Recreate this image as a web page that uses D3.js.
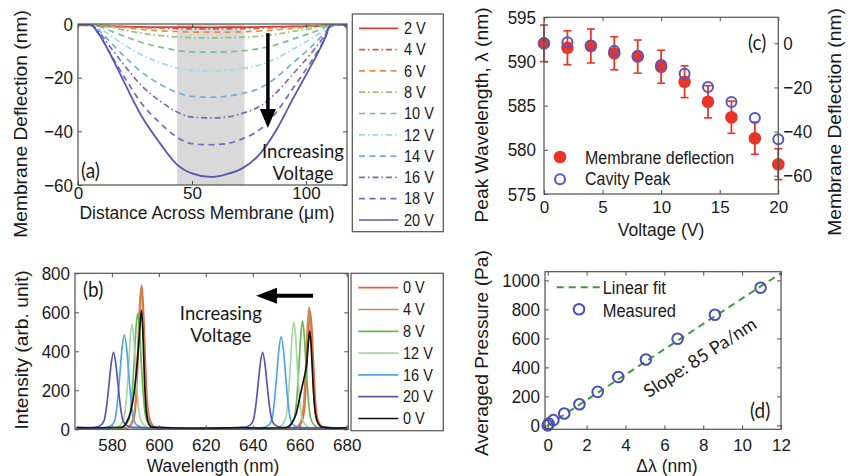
<!DOCTYPE html>
<html>
<head>
<meta charset="utf-8">
<script src="https://cdn.jsdelivr.net/npm/d3@7"></script>
<style>
  body { margin: 0; background: #fff; }
  svg { display: block; background: #fff; }
  /* source figure is stretched ~10% vertically */
  .sy { transform-box: fill-box; transform-origin: center; transform: scaleY(1.1); }
  .sx { transform-box: fill-box; transform-origin: center; transform: scaleX(1.1); }
</style>
</head>
<body>
<svg id="fig" width="849" height="476"></svg>
<script>
// ─── Data: (a) membrane deflection profiles ──────────────────────────────────
const distX = [0, 5, 9, 14, 21, 28, 36, 43, 50, 58, 65, 72, 80, 87, 94, 102, 108, 111, 115, 118];
const profileLabels = ['2 V', '4 V', '6 V', '8 V', '10 V', '12 V', '14 V', '16 V', '18 V', '20 V'];
const defl2V  = [-0.5, -0.5, -0.7, -0.9, -1, -1.1, -1.2, -1.2, -1.2, -1.3, -1.2, -1.2, -1.1, -1, -0.9, -0.8, -0.6, -0.4, -0.3, -0.3];
const defl4V  = [-0.3, -0.4, -0.5, -0.7, -1, -1.3, -1.5, -1.7, -1.8, -1.8, -1.8, -1.7, -1.6, -1.3, -1, -0.7, -0.4, -0.2, 0, 0];
const defl6V  = [0, -0.2, -0.4, -0.8, -1.4, -2, -2.5, -2.8, -3, -3, -3, -2.9, -2.6, -2.2, -1.6, -1, -0.4, -0.1, 0, 0];
const defl8V  = [0, 0, -0.4, -1.2, -2.4, -3.4, -4.3, -4.8, -5.1, -5.2, -5.1, -4.9, -4.5, -3.8, -2.8, -1.7, -0.7, -0.1, 0, 0];
const defl10V = [0, 0, -0.8, -2.5, -4.8, -6.9, -8.6, -9.8, -10.4, -10.5, -10.4, -10, -9.1, -7.7, -5.7, -3.4, -1.4, -0.2, 0, 0];
const defl12V = [0, 0, -1.4, -4.2, -8.1, -11.6, -14.4, -16.3, -17.3, -17.5, -17.3, -16.6, -15.2, -12.8, -9.5, -5.6, -2.3, -0.4, 0, -0.2];
const defl14V = [0, 0, -2.2, -6.6, -12.6, -18, -22.4, -25.4, -27, -27.3, -27, -25.9, -23.8, -19.9, -14.7, -8.7, -3.5, -0.5, 0, -0.3];
const defl16V = [0, 0, -2.8, -8.4, -16.1, -23.1, -28.7, -32.6, -34.7, -35, -34.7, -33.3, -30.5, -25.6, -18.9, -11.2, -4.6, -0.7, 0, -0.3];
const defl18V = [0, 0, -3.6, -10.8, -20.7, -29.7, -36.9, -41.9, -44.6, -45, -44.6, -42.8, -39.2, -32.9, -24.3, -14.4, -5.9, -0.9, 0, -0.5];
const defl20V = [0, 0, -3.5, -11, -23, -34.5, -44.5, -52, -55.7, -57, -56, -53.8, -48.2, -39.5, -28.3, -15.9, -6, 0, 0.5, -1.5];
const profileValues = [defl2V, defl4V, defl6V, defl8V, defl10V, defl12V, defl14V, defl16V, defl18V, defl20V];
const bandRange = [43.5, 73];

// ─── Data: (b) transmission spectra, [wavelength nm, intensity] ──────────────
const spectrumLabels = ['0 V', '4 V', '8 V', '12 V', '16 V', '20 V', '0 V'];
const spec0V = [[565,6],[580,6],[586.7,8],[588.5,30],[589.7,74],[590.6,200],[591.3,407],[592,629],[592.7,740],[593.4,629],[594.1,407],[594.8,200],[595.7,74],[596.9,30],[598.7,8],[620,5],[650,6],[658.5,8],[660.3,24],[661.5,61],[662.4,163],[663.1,333],[663.8,514],[664.5,605],[665.2,514],[665.9,333],[666.6,163],[667.5,61],[668.7,24],[670.5,8],[680,6]];
const spec4V = [[565,6],[580,6],[586.4,8],[588.2,29],[589.4,73],[590.3,196],[591,399],[591.7,616],[592.4,725],[593.1,616],[593.8,399],[594.5,196],[595.4,73],[596.6,29],[598.4,8],[620,5],[650,6],[658,8],[659.8,25],[661,63],[661.9,169],[662.6,344],[663.3,531],[664,625],[664.7,531],[665.4,344],[666.1,169],[667,63],[668.2,25],[670,8],[680,6]];
const spec8V = [[565,6],[578,6],[584,8],[586,24],[587.5,60],[588.5,161],[589.4,327],[590.2,506],[591,595],[591.8,506],[592.6,327],[593.5,161],[594.5,60],[596,24],[598,8],[620,5],[645,6],[654.2,8],[656.2,22],[657.7,56],[658.7,150],[659.6,305],[660.4,472],[661.2,555],[662,472],[662.8,305],[663.7,150],[664.7,56],[666.2,22],[668.2,8],[680,6]];
const spec12V = [[565,6],[575,6],[581.6,8],[583.6,22],[585.1,54],[586.1,146],[587,297],[587.8,459],[588.6,540],[589.4,459],[590.2,297],[591.1,146],[592.1,54],[593.6,22],[595.6,8],[620,5],[642,6],[650.5,8],[652.5,22],[654,55],[655,149],[655.9,303],[656.7,468],[657.5,550],[658.3,468],[659.1,303],[660,149],[661,55],[662.5,22],[664.5,8],[680,6]];
const spec16V = [[565,6],[572,6],[577.3,9],[579.8,20],[581.3,49],[582.3,131],[583.3,267],[584.3,412],[585.3,485],[586.3,412],[587.3,267],[588.3,131],[589.3,49],[590.8,20],[593.3,9],[615,5],[636,6],[644.1,9],[646.6,20],[648.1,48],[649.1,128],[650.1,261],[651.1,404],[652.1,475],[653.1,404],[654.1,261],[655.1,128],[656.1,48],[657.6,20],[660.1,9],[680,6]];
const spec20V = [[565,6],[572.7,10],[575.2,20],[576.7,45],[577.7,112],[578.7,220],[579.7,336],[580.7,395],[581.7,336],[582.7,220],[583.7,112],[584.7,45],[586.2,20],[588.7,10],[610,5],[628,6],[636.2,10],[638.7,20],[640.2,45],[641.2,112],[642.2,220],[643.2,336],[644.2,395],[645.2,336],[646.2,220],[647.2,112],[648.2,45],[649.7,20],[652.2,10],[680,6]];
const spec0Vb = [[565,10],[572,8],[580,9],[584,10],[586,30],[588,90],[589.5,190],[590.7,330],[591.7,480],[592.6,610],[593.3,470],[593.9,250],[594.6,100],[595.5,35],[597,12],[605,8],[620,5],[635,9],[645,6],[654,8],[656.5,30],[658.5,80],[660.4,185],[661.8,260],[662.8,320],[663.6,430],[664.3,505],[665,400],[665.7,230],[666.4,110],[667.5,40],[669.5,12],[675,6],[680,9]];
const spectra = [spec0V, spec4V, spec8V, spec12V, spec16V, spec20V, spec0Vb];

// ─── Data: (c) peak wavelength vs voltage ────────────────────────────────────
const voltages = [0, 2, 4, 6, 8, 10, 12, 14, 16, 18, 20];
const memDeflection = [0, -2, -1.2, -4.5, -6, -10.6, -17.4, -26.5, -33.5, -43, -54.8];
const memDeflErr = [8.3, 7.7, 7.7, 7.5, 7.5, 7.5, 7.2, 7.3, 7.3, 7.3, 7.0];
const cavityPeak = [592.06, 592.17, 591.8, 591.2, 590.65, 589.6, 588.6, 587.1, 585.4, 583.6, 581.2];

// ─── Data: (d) pressure vs wavelength shift ──────────────────────────────────
const dLambda = [0, 0.05, 0.29, 0.85, 1.63, 2.57, 3.63, 5.05, 6.68, 8.6, 10.95];
const pressure = [0, 12, 36, 82, 146, 231, 334, 454, 598, 763, 949];
const fitX = [0, 12];
const fitP = [0, 1050];

// ─── Tick values ─────────────────────────────────────────────────────────────
const ticksAX = [0, 50, 100], ticksAY = [0, -20, -40, -60];
const ticksBX = [580, 600, 620, 640, 660, 680], ticksBY = [0, 200, 400, 600, 800];
const ticksCX = [0, 5, 10, 15, 20], ticksCY = [575, 580, 585, 590, 595], ticksCY2 = [0, -20, -40, -60];
const ticksDX = [0, 2, 4, 6, 8, 10, 12], ticksDY = [0, 200, 400, 600, 800, 1000];

// ─── Styles ──────────────────────────────────────────────────────────────────
const SANS = '"Liberation Sans", Arial, Helvetica, sans-serif';
const NOTE = 'Lato, "Open Sans", sans-serif';
const AXIS = '#505050';
const TICK = 4;
const DASH = '6,4.5', DASHDOT = '6,3,1.5,3';
const profileStyles = [
  { color: '#c9412f', dash: null },
  { color: '#e4553f', dash: DASHDOT },
  { color: '#e98a45', dash: DASH },
  { color: '#93c765', dash: DASHDOT },
  { color: '#74c28a', dash: DASH },
  { color: '#9fd9ea', dash: DASHDOT },
  { color: '#72aedd', dash: DASH },
  { color: '#7d68ad', dash: DASHDOT },
  { color: '#7468c4', dash: DASH },
  { color: '#5656b5', dash: null },
];
const spectrumColors = ['#f25a3a', '#c98a50', '#66b94e', '#a6d6a2', '#4ea6e6', '#5e54ad', '#111111'];

const svg = d3.select('#fig');
const fmt = d3.format('d');

// ─── Helpers ─────────────────────────────────────────────────────────────────

function makePanel(id, box, xDom, yDom) {
  svg.append('clipPath').attr('id', id)
    .append('rect')
    .attr('x', box.l).attr('y', box.t)
    .attr('width', box.r - box.l).attr('height', box.b - box.t);
  return {
    id, box,
    x: d3.scaleLinear().domain(xDom).range([box.l, box.r]),
    y: d3.scaleLinear().domain(yDom).range([box.b, box.t]),
  };
}

// stretch only the y-axis labels; x labels sit tight against the titles
function styleAxis(sel, stretch = true) {
  sel.attr('font-size', null).attr('font-family', null);
  sel.select('.domain').remove();
  sel.selectAll('line').attr('stroke', AXIS).attr('stroke-width', 1);
  sel.selectAll('text')
    .attr('class', stretch ? 'sy' : null)
    .attr('fill', '#1a1a1a')
    .style('font-family', SANS)
    .style('font-size', '17px');
}

// Matlab-style boxed axes: inward ticks on all four sides
function renderFrame(p, xTicks, yTicks, opt) {
  const { x, y, box } = p;
  svg.append('g').attr('transform', `translate(0,${box.b})`)
    .call(d3.axisBottom(x).tickValues(xTicks).tickSize(-TICK).tickPadding(opt.padX).tickFormat(fmt))
    .call(styleAxis, false);
  svg.append('g').attr('transform', `translate(0,${box.t})`)
    .call(d3.axisTop(x).tickValues(xTicks).tickSize(-TICK).tickFormat(''))
    .call(styleAxis);
  svg.append('g').attr('transform', `translate(${box.l},0)`)
    .call(d3.axisLeft(y).tickValues(yTicks).tickSize(-TICK).tickPadding(opt.padY).tickFormat(fmt))
    .call(styleAxis);
  if (opt.y2) {
    svg.append('g').attr('transform', `translate(${box.r},0)`)
      .call(d3.axisRight(opt.y2).tickValues(opt.y2Ticks).tickSize(-TICK).tickPadding(5).tickFormat(fmt))
      .call(styleAxis);
  } else {
    svg.append('g').attr('transform', `translate(${box.r},0)`)
      .call(d3.axisRight(y).tickValues(yTicks).tickSize(-TICK).tickFormat(''))
      .call(styleAxis);
  }
  svg.append('rect')
    .attr('x', box.l).attr('y', box.t)
    .attr('width', box.r - box.l).attr('height', box.b - box.t)
    .attr('fill', 'none').attr('stroke', AXIS).attr('stroke-width', 1.2);
}

function addText(x, y, str, opt = {}) {
  return svg.append('text')
    .attr('x', x).attr('y', y)
    .attr('class', opt.cls === undefined ? 'sy' : opt.cls)
    .attr('text-anchor', opt.anchor || 'start')
    .attr('fill', opt.fill || '#1a1a1a')
    .style('font-family', opt.font || SANS)
    .style('font-size', (opt.size || 17.5) + 'px')
    .text(str);
}

function addYTitle(bx, cy, str) {
  svg.append('g').attr('transform', `translate(${bx},${cy}) rotate(-90)`)
    .append('text')
    .attr('class', 'sx')
    .attr('text-anchor', 'middle')
    .attr('fill', '#1a1a1a')
    .style('font-family', SANS)
    .style('font-size', '17.5px')
    .text(str);
}

function arrow(x1, y1, x2, y2, head, halfW, width) {
  const ang = Math.atan2(y2 - y1, x2 - x1);
  const bx = x2 - head * Math.cos(ang), by = y2 - head * Math.sin(ang);
  svg.append('line')
    .attr('x1', x1).attr('y1', y1).attr('x2', bx).attr('y2', by)
    .attr('stroke', '#000').attr('stroke-width', width);
  const nx = -Math.sin(ang) * halfW, ny = Math.cos(ang) * halfW;
  svg.append('path')
    .attr('d', `M${x2},${y2}L${bx + nx},${by + ny}L${bx - nx},${by - ny}Z`)
    .attr('fill', '#000');
}

// ─── Panel (a) ───────────────────────────────────────────────────────────────
const pa = makePanel('clip-a', { l: 78, r: 347, t: 24, b: 185 }, [0, 118], [-60, 0]);

svg.append('rect')
  .attr('x', pa.x(bandRange[0])).attr('y', pa.box.t)
  .attr('width', pa.x(bandRange[1]) - pa.x(bandRange[0]))
  .attr('height', pa.box.b - pa.box.t)
  .attr('fill', '#d9d9d9');

const lineA = d3.line().x((d, i) => pa.x(distX[i])).y(d => pa.y(d)).curve(d3.curveMonotoneX);
svg.append('g').attr('clip-path', 'url(#clip-a)')
  .selectAll('path')
  .data(profileValues)
  .join('path')
  .attr('d', lineA)
  .attr('fill', 'none')
  .attr('stroke', (d, i) => profileStyles[i].color)
  .attr('stroke-width', (d, i) => (i === 9 ? 1.8 : 1.7))
  .attr('stroke-dasharray', (d, i) => profileStyles[i].dash);

arrow(pa.x(83.3), pa.y(-3.4), pa.x(83.3), pa.y(-38.8), 19, 8, 3.5);
addText(pa.x(98.7), pa.y(-49.9), 'Increasing', { anchor: 'middle', font: NOTE, size: 18.5, cls: null });
addText(pa.x(98.7), pa.y(-58.1), 'Voltage', { anchor: 'middle', font: NOTE, size: 18.5, cls: null });
addText(81, 177, '(a)', { font: NOTE, size: 19 });

renderFrame(pa, ticksAX, ticksAY, { padX: 2, padY: 5 });
addText(207, 219, 'Distance Across Membrane (\u03bcm)', { anchor: 'middle', cls: null });
addYTitle(27, 124, 'Membrane Deflection (nm)');

// legend (a)
const legA = svg.append('g');
legA.append('rect').attr('x', 352.3).attr('y', 14).attr('width', 91).attr('height', 217.7)
  .attr('fill', '#fff').attr('stroke', AXIS).attr('stroke-width', 1.2);
profileLabels.forEach((lab, i) => {
  const yy = 28.3 + i * 21.3;
  legA.append('line').attr('x1', 359).attr('x2', 398.3).attr('y1', yy).attr('y2', yy)
    .attr('stroke', profileStyles[i].color).attr('stroke-width', 1.7)
    .attr('stroke-dasharray', profileStyles[i].dash);
  legA.append('text').attr('x', 404).attr('y', yy).attr('dy', '0.36em')
    .attr('class', 'sy').attr('fill', '#1a1a1a')
    .style('font-family', SANS).style('font-size', '14.5px').text(lab);
});

// ─── Panel (b) ───────────────────────────────────────────────────────────────
const pb = makePanel('clip-b', { l: 75, r: 348.3, t: 273.3, b: 429.3 }, [564.3, 680.7], [0, 800]);

const lineB = d3.line().x(d => pb.x(d[0])).y(d => pb.y(d[1])).curve(d3.curveMonotoneX);
svg.append('g').attr('clip-path', 'url(#clip-b)')
  .selectAll('path')
  .data(spectra)
  .join('path')
  .attr('d', lineB)
  .attr('fill', 'none')
  .attr('stroke', (d, i) => spectrumColors[i])
  .attr('stroke-width', 1.7);

arrow(pb.x(665.7), pb.y(685), pb.x(641.4), pb.y(685), 21, 8, 4);
addText(pb.x(626.4), pb.y(562), 'Increasing', { anchor: 'middle', font: NOTE, size: 18.5, cls: null });
addText(pb.x(626.4), pb.y(447), 'Voltage', { anchor: 'middle', font: NOTE, size: 18.5, cls: null });
addText(83, 296, '(b)', { font: NOTE, size: 19 });

renderFrame(pb, ticksBX, ticksBY, { padX: 10, padY: 5 });
addText(213, 472, 'Wavelength (nm)', { anchor: 'middle', cls: null });
addYTitle(28, 350, 'Intensity (arb. unit)');

// legend (b)
const legB = svg.append('g');
legB.append('rect').attr('x', 351).attr('y', 273.3).attr('width', 92.3).attr('height', 157.4)
  .attr('fill', '#fff').attr('stroke', AXIS).attr('stroke-width', 1.2);
spectrumLabels.forEach((lab, i) => {
  const yy = 287.7 + i * 21.8;
  legB.append('line').attr('x1', 358.3).attr('x2', 398.3).attr('y1', yy).attr('y2', yy)
    .attr('stroke', spectrumColors[i]).attr('stroke-width', 1.7);
  legB.append('text').attr('x', 403).attr('y', yy).attr('dy', '0.36em')
    .attr('class', 'sy').attr('fill', '#1a1a1a')
    .style('font-family', SANS).style('font-size', '14.5px').text(lab);
});

// ─── Panel (c) ───────────────────────────────────────────────────────────────
const pc = makePanel('clip-c', { l: 544, r: 778.3, t: 17.3, b: 194 }, [0, 20], [575, 595]);
const yDefl = d3.scaleLinear().domain([-68.3, 11.8]).range([pc.box.b, pc.box.t]);
const RED = '#e8352a', BLUE = '#5656bd';

const errG = svg.append('g');
voltages.forEach((v, i) => {
  const cx = pc.x(v);
  const y0 = yDefl(memDeflection[i] - memDeflErr[i]), y1 = yDefl(memDeflection[i] + memDeflErr[i]);
  errG.append('line').attr('x1', cx).attr('x2', cx).attr('y1', y0).attr('y2', y1)
    .attr('stroke', RED).attr('stroke-width', 1.8);
  [y0, y1].forEach(yy => errG.append('line')
    .attr('x1', cx - 4).attr('x2', cx + 4).attr('y1', yy).attr('y2', yy)
    .attr('stroke', RED).attr('stroke-width', 1.6));
});
svg.append('g').selectAll('circle')
  .data(voltages)
  .join('circle')
  .attr('cx', d => pc.x(d))
  .attr('cy', (d, i) => yDefl(memDeflection[i]))
  .attr('r', 6.3)
  .attr('fill', RED);
svg.append('g').selectAll('circle')
  .data(voltages)
  .join('circle')
  .attr('cx', d => pc.x(d))
  .attr('cy', (d, i) => pc.y(cavityPeak[i]))
  .attr('r', 5)
  .attr('fill', 'none')
  .attr('stroke', BLUE)
  .attr('stroke-width', 2);

renderFrame(pc, ticksCX, ticksCY, { padX: 7, padY: 8, y2: yDefl, y2Ticks: ticksCY2 });
addText(748, 49, '(c)', { font: NOTE, size: 19 });
addText(661, 236, 'Voltage (V)', { anchor: 'middle', cls: null });
addYTitle(488, 115, 'Peak Wavelength, \u03bb (nm)');
addYTitle(841, 122, 'Membrane Deflection (nm)');

// legend (c)
svg.append('circle').attr('cx', 560).attr('cy', 157).attr('r', 6.3).attr('fill', RED);
svg.append('circle').attr('cx', 560).attr('cy', 179.3).attr('r', 5)
  .attr('fill', 'none').attr('stroke', BLUE).attr('stroke-width', 2);
addText(585, 163.5, 'Membrane deflection', { size: 16 });
addText(585, 184, 'Cavity Peak', { size: 16 });

// ─── Panel (d) ───────────────────────────────────────────────────────────────
const pd = makePanel('clip-d', { l: 545, r: 781, t: 271.7, b: 429.3 }, [-0.14, 12], [-27, 1060]);
const GREEN = '#3b9a3b', PURPLE = '#4a4fb5';

svg.append('path')
  .attr('clip-path', 'url(#clip-d)')
  .attr('d', d3.line().x((d, i) => pd.x(fitX[i])).y(d => pd.y(d))(fitP))
  .attr('fill', 'none')
  .attr('stroke', GREEN)
  .attr('stroke-width', 2)
  .attr('stroke-dasharray', '7,5');
svg.append('g').selectAll('circle')
  .data(dLambda)
  .join('circle')
  .attr('cx', d => pd.x(d))
  .attr('cy', (d, i) => pd.y(pressure[i]))
  .attr('r', 5.3)
  .attr('fill', 'none')
  .attr('stroke', PURPLE)
  .attr('stroke-width', 2);

// slope label parallel to the fit line
const slopeAng = Math.atan2(pd.y(fitP[1]) - pd.y(fitP[0]), pd.x(fitX[1]) - pd.x(fitX[0])) * 180 / Math.PI;
svg.append('text')
  .attr('transform', `translate(${pd.x(7.83)},${pd.y(469)}) rotate(${slopeAng})`)
  .attr('text-anchor', 'middle')
  .attr('dy', '0.35em')
  .attr('fill', '#1a1a1a')
  .style('font-family', NOTE)
  .style('font-size', '18px')
  .text('Slope: 85 Pa/nm');

renderFrame(pd, ticksDX, ticksDY, { padX: 10, padY: 5 });
addText(750, 417, '(d)', { font: NOTE, size: 19 });
addText(667, 472, '\u0394\u03bb (nm)', { anchor: 'middle', cls: null });
addYTitle(488, 353, 'Averaged Pressure (Pa)');

// legend (d)
svg.append('line').attr('x1', 556.7).attr('x2', 600).attr('y1', 287.3).attr('y2', 287.3)
  .attr('stroke', GREEN).attr('stroke-width', 2).attr('stroke-dasharray', '7,5');
svg.append('circle').attr('cx', 579).attr('cy', 309.3).attr('r', 5.3)
  .attr('fill', 'none').attr('stroke', PURPLE).attr('stroke-width', 2);
addText(602.7, 293.5, 'Linear fit', { size: 16.5 });
addText(602.7, 316, 'Measured', { size: 16.5 });
</script>
</body>
</html>
